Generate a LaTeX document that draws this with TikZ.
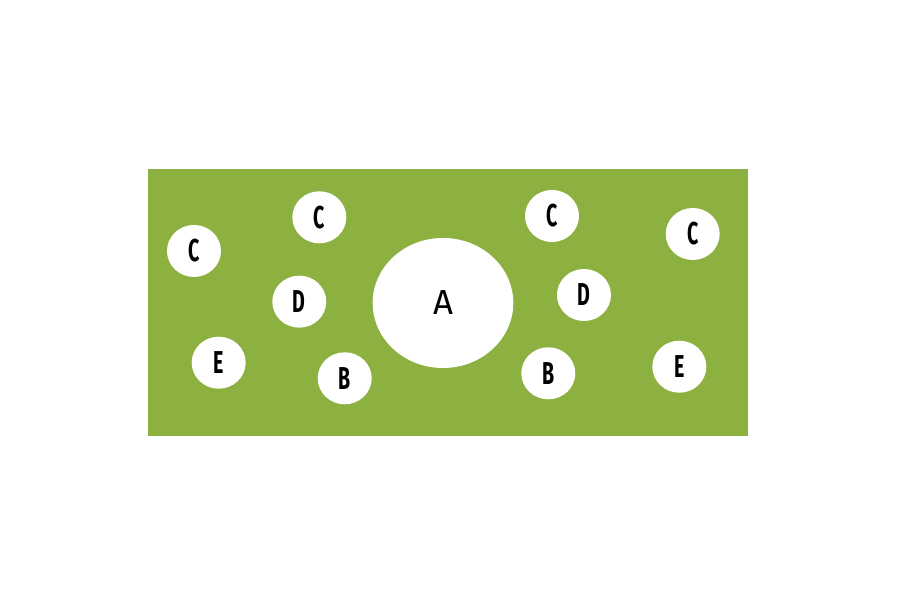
\documentclass[tikz,border=0pt]{standalone}
\usepackage{fontspec}
\setmainfont{Fira Sans}
\newfontfamily\narrowfont{Fira Sans}[FakeStretch=0.62]
\usetikzlibrary{shapes.geometric}
\definecolor{field}{RGB}{141,177,65}
\tikzset{
  dot/.style={ellipse,fill=white,inner sep=0pt,minimum width=0.9cm,minimum height=0.867cm,
    font=\narrowfont\bfseries\fontsize{15}{16}\selectfont},
  bigdot/.style={ellipse,fill=white,inner sep=0pt,minimum width=2.344cm,minimum height=2.167cm,
    font=\fontsize{16.5}{18}\selectfont}
}
\begin{document}
\begin{tikzpicture}[x=1cm,y=1cm]
\useasboundingbox (0,0) rectangle (15,10);
\fill[field] (2.467,2.733) rectangle (12.467,7.183);
\node[bigdot] (a) at (7.383,4.95) {A};
\foreach \x/\y/\n/\t in {3.233/5.817/c1/C,5.322/6.378/c2/C,9.2/6.4/c3/C,11.545/6.1/c4/C,
    4.988/4.972/d1/D,9.733/5.083/d2/D,5.745/3.695/b1/B,9.138/3.778/b2/B,
    3.645/3.955/e1/E,11.322/3.888/e2/E} {
    \node[dot] (\n) at (\x,\y) {\t};
}
\end{tikzpicture}
\end{document}
